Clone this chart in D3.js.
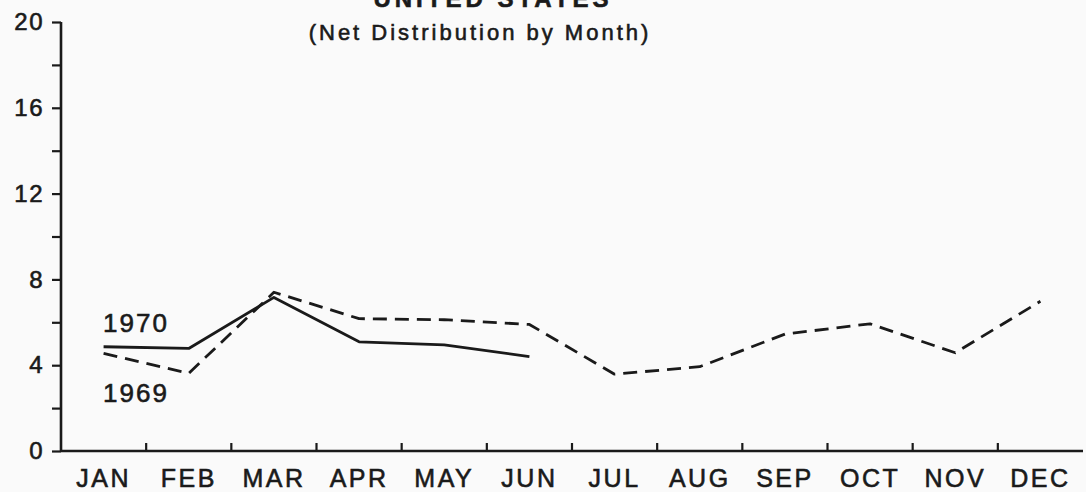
<!DOCTYPE html>
<html>
<head>
<meta charset="utf-8">
<script src="https://cdn.jsdelivr.net/npm/d3@7"></script>
<style>
  html, body { margin: 0; padding: 0; background: #fafafa; }
  svg { display: block; }
  text { font-family: "Liberation Sans", Arial, sans-serif; fill: #1a1a1a; stroke: #1a1a1a; stroke-width: 0.6px; }
</style>
</head>
<body>
<script>
const months = ["JAN","FEB","MAR","APR","MAY","JUN","JUL","AUG","SEP","OCT","NOV","DEC"];
const values1970 = [4.86, 4.78, 7.16, 5.09, 4.95, 4.4];
const values1969 = [4.55, 3.62, 7.4, 6.17, 6.12, 5.9, 3.58, 3.93, 5.45, 5.93, 4.58, 6.98];
const yTicks = [0, 2, 4, 6, 8, 10, 12, 14, 16, 18, 20];
const yLabelTicks = [0, 4, 8, 12, 16, 20];
const title = "UNITED STATES";
const subtitle = "(Net Distribution by Month)";
const seriesLabels = ["1970", "1969"];

const W = 1086, H = 492;
const mLeft = 61, mRight = 1083, mTop = 22, mBottom = 451;
const ink = "#1a1a1a";

const svg = d3.select("body").append("svg").attr("width", W).attr("height", H);

const x = d3.scaleBand().domain(months).range([mLeft, mRight]).paddingInner(0).paddingOuter(0);
const y = d3.scaleLinear().domain([0, 20]).range([mBottom, mTop]);
const cx = m => x(m) + x.bandwidth() / 2;

// Y axis
const yAxis = svg.append("g").attr("transform", `translate(${mLeft},0)`)
  .call(d3.axisLeft(y).tickValues(yTicks).tickSize(9).tickPadding(8)
    .tickFormat(d => yLabelTicks.includes(d) ? d : ""));
yAxis.select(".domain").attr("stroke", ink).attr("stroke-width", 2.6).attr("d", `M0,${y(20)}V${mBottom}`);
yAxis.selectAll(".tick line").attr("stroke", ink).attr("stroke-width", 2.2);
yAxis.selectAll(".tick text").attr("font-size", 24).attr("fill", ink).attr("letter-spacing", 1.5)
  .style("font-family", "'Liberation Sans', Arial, sans-serif");

// X axis labels
const xAxis = svg.append("g").attr("transform", `translate(0,${mBottom})`)
  .call(d3.axisBottom(x).tickSize(0).tickPadding(18));
xAxis.select(".domain").attr("stroke", ink).attr("stroke-width", 2.6).attr("d", `M${mLeft},0H${mRight}`);
xAxis.selectAll(".tick text").attr("font-size", 25).attr("fill", ink).attr("letter-spacing", 2.5)
  .attr("dy", "0.71em")
  .style("font-family", "'Liberation Sans', Arial, sans-serif");

// X boundary ticks (pointing up)
svg.append("g").selectAll("line").data(months.slice(1)).join("line")
  .attr("x1", d => x(d)).attr("x2", d => x(d))
  .attr("y1", mBottom).attr("y2", mBottom - 8)
  .attr("stroke", ink).attr("stroke-width", 2.2);

// Lines
const line = d3.line().x(d => cx(d.m)).y(d => y(d.v));
const d1970 = values1970.map((v, i) => ({ m: months[i], v }));
const d1969 = values1969.map((v, i) => ({ m: months[i], v }));

svg.append("path").datum(d1969).attr("d", line)
  .attr("fill", "none").attr("stroke", ink).attr("stroke-width", 2.8)
  .attr("stroke-dasharray", "14,8").attr("stroke-linejoin", "round");
svg.append("path").datum(d1970).attr("d", line)
  .attr("fill", "none").attr("stroke", ink).attr("stroke-width", 2.8)
  .attr("stroke-linejoin", "round");

// Series labels
svg.append("text").attr("x", 103).attr("y", 332).attr("font-size", 26).attr("letter-spacing", 2)
  .text(seriesLabels[0]);
svg.append("text").attr("x", 103).attr("y", 402).attr("font-size", 26).attr("letter-spacing", 2)
  .text(seriesLabels[1]);

// Titles
svg.append("text").attr("x", 493).attr("y", 7).attr("text-anchor", "middle")
  .attr("font-size", 24).attr("font-weight", "bold").attr("letter-spacing", 4).text(title);
svg.append("text").attr("x", 480).attr("y", 40).attr("text-anchor", "middle")
  .attr("font-size", 22).attr("letter-spacing", 3).text(subtitle);
</script>
</body>
</html>
